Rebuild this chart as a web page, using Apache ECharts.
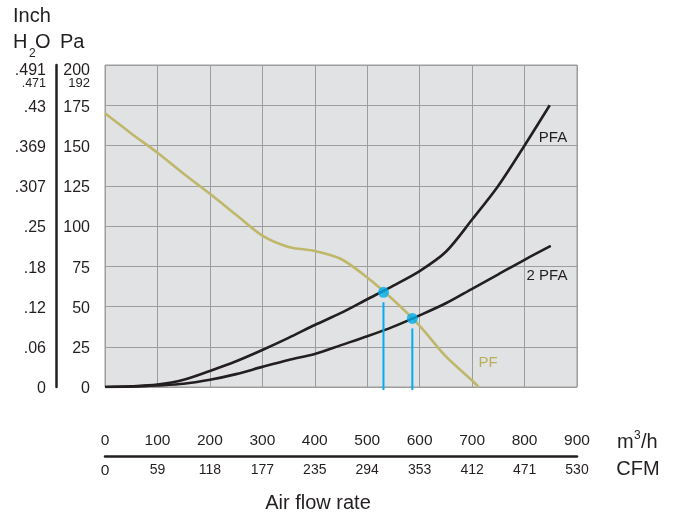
<!DOCTYPE html>
<html>
<head>
<meta charset="utf-8">
<script src="https://cdn.jsdelivr.net/npm/echarts@6/dist/echarts.min.js"></script>
<style>
html,body{margin:0;padding:0;background:#fff;}
#c{width:676px;height:516px;}
</style>
</head>
<body>
<div id="c"></div>
<script>
// ---- data ----
const flowMin = 0, flowMax = 900, flowStep = 100;
const paMin = 0, paMax = 200, paStep = 25;
const cfmLabels = ['0','59','118','177','235','294','353','412','471','530'];
const inchLabels = ['0','.06','.12','.18','.25','.307','.369','.43','.491'];
const paExtraTick = 192;
const inchExtraLabel = '.471';

const pfFlow = [0,50,100,150,200,250,300,350,400,450,500,550,600,650,700,712];
const pfPa   = [170,157.5,145.5,132.5,120,107,94,87,84.5,79.5,68,54,38,19,4,0];

const pfaFlow = [0,50,100,150,200,250,300,350,400,450,500,550,600,650,700,750,800,848];
const pfaPa   = [0,0.4,1.5,4.5,10,16,23,30.5,38.5,46,54.5,63,72,84,104,125,150,175];

const pfa2Flow = [0,50,100,150,200,250,300,350,400,450,500,550,600,650,700,750,800,850];
const pfa2Pa   = [0,0.3,1,2,4.5,8,12.5,16.8,20.5,26,31.5,37.5,44.5,52,61,70,79,87.6];

const opFlow = [531,586];
const opPa   = [58.8,42.6];

// ---- helpers ----
const pairs = (xs, ys) => xs.map((x, i) => [x, ys[i]]);
const FONT = '"Liberation Sans", Arial, Helvetica, sans-serif';
const TXT = '#231f20';
const inchMap = {};
for (let v = paMin, i = 0; v <= paMax; v += paStep, i++) inchMap[v] = inchLabels[i];

const richMain = {
  n: {fontSize: 16, color: TXT, fontFamily: FONT, padding: [4, 0, 0, 0]},
  t: {fontSize: 16, color: TXT, fontFamily: FONT, padding: [12, 0, 0, 0]}
};
const keyOf = (v) => (v === paMax ? 't' : 'n');

const chart = echarts.init(document.getElementById('c'), null, {renderer: 'canvas'});

function txt(x, y, text, size, color, align) {
  return {
    type: 'text', x: x, y: y, silent: true,
    style: {
      text: text, fill: color || TXT,
      font: size + 'px ' + FONT,
      align: align || 'left', verticalAlign: 'middle'
    }
  };
}

function baseY(extra) {
  return Object.assign({
    type: 'value', min: paMin, max: paMax, interval: paStep,
    position: 'left',
    axisLine: {show: false}, axisTick: {show: false}, splitLine: {show: false}
  }, extra);
}

const opSeries = opFlow.map((f, i) => ({
  type: 'line', xAxisIndex: 0, yAxisIndex: 0, clip: false,
  symbol: 'none', silent: true, z: 3,
  lineStyle: {color: '#00aeef', width: 2},
  data: [[f, opPa[i] - 6.2], [f, -1.9]]
}));

const option = {
  animation: false,
  backgroundColor: '#ffffff',
  textStyle: {fontFamily: FONT},
  grid: {
    left: 105, top: 65, width: 472, height: 322,
    show: true, backgroundColor: '#e1e2e4',
    borderColor: '#9d9d9d', borderWidth: 1,
    outerBoundsMode: 'none', containLabel: false
  },
  xAxis: [
    {
      type: 'value', min: flowMin, max: flowMax, interval: flowStep,
      position: 'bottom',
      axisLine: {show: false}, axisTick: {show: false},
      splitLine: {show: true, lineStyle: {color: '#9d9d9d', width: 1}},
      axisLabel: {show: true, margin: 46, fontSize: 15.5, color: TXT, fontFamily: FONT,
                  showMinLabel: true, showMaxLabel: true}
    },
    {
      type: 'value', min: flowMin, max: flowMax, interval: flowStep,
      position: 'bottom', offset: 69,
      axisLine: {show: true, onZero: false, lineStyle: {color: TXT, width: 2.5}},
      axisTick: {show: false},
      splitLine: {show: false},
      axisLabel: {
        show: true, margin: 7, fontSize: 14, color: TXT, fontFamily: FONT,
        showMinLabel: true, showMaxLabel: true,
        formatter: (v) => {
          const i = Math.round((v - flowMin) / flowStep);
          return i === 0 ? '{b|' + cfmLabels[i] + '}' : cfmLabels[i];
        },
        rich: {b: {fontSize: 15.5, color: TXT, fontFamily: FONT}}
      }
    }
  ],
  yAxis: [
    baseY({
      splitLine: {show: true, lineStyle: {color: '#9d9d9d', width: 1}},
      axisLabel: {
        show: true, margin: 15, color: TXT, fontFamily: FONT,
        showMinLabel: true, showMaxLabel: true,
        formatter: (v) => '{' + keyOf(v) + '|' + v + '}',
        rich: richMain
      }
    }),
    baseY({
      offset: 55,
      axisLabel: {
        show: true, margin: 4, color: TXT, fontFamily: FONT,
        showMinLabel: true, showMaxLabel: true,
        formatter: (v) => '{' + keyOf(v) + '|' + inchMap[v] + '}',
        rich: richMain
      }
    }),
    baseY({
      offset: 49,
      axisLine: {show: true, onZero: false, lineStyle: {color: TXT, width: 2.5}},
      axisLabel: {show: false}
    }),
    baseY({
      axisLabel: {
        show: true, margin: 15, color: TXT, fontFamily: FONT,
        customValues: [paExtraTick], showMinLabel: true, showMaxLabel: true,
        formatter: (v) => '{s|' + v + '}',
        rich: {s: {fontSize: 13, color: TXT, fontFamily: FONT, padding: [11, 0, 0, 0]}}
      }
    }),
    baseY({
      offset: 55,
      axisLabel: {
        show: true, margin: 4, color: TXT, fontFamily: FONT,
        customValues: [paExtraTick], showMinLabel: true, showMaxLabel: true,
        formatter: () => '{s|' + inchExtraLabel + '}',
        rich: {s: {fontSize: 12.5, color: TXT, fontFamily: FONT, padding: [11, 0, 0, 0]}}
      }
    })
  ],
  series: [
    {
      name: 'PF', type: 'line', smooth: 0.3, symbol: 'none', silent: true, z: 2,
      lineStyle: {color: '#bfb76a', width: 2.6},
      data: pairs(pfFlow, pfPa)
    },
    {
      name: 'PFA', type: 'line', smooth: 0.3, symbol: 'none', silent: true, z: 2,
      lineStyle: {color: TXT, width: 2.6},
      data: pairs(pfaFlow, pfaPa)
    },
    {
      name: '2 PFA', type: 'line', smooth: 0.3, symbol: 'none', silent: true, z: 2,
      lineStyle: {color: TXT, width: 2.6},
      data: pairs(pfa2Flow, pfa2Pa)
    },
    ...opSeries,
    {
      name: 'Operating point', type: 'scatter', symbol: 'circle', symbolSize: 11,
      silent: true, z: 4,
      itemStyle: {color: '#00aeef'},
      data: pairs(opFlow, opPa)
    }
  ],
  graphic: [
    txt(13, 16, 'Inch', 20),
    txt(13, 42, 'H', 20),
    txt(29, 54, '2', 12),
    txt(35, 42, 'O', 20),
    txt(60, 42, 'Pa', 20),
    txt(617, 442, 'm', 20),
    txt(634, 436, '3', 12),
    txt(641, 442, '/h', 20),
    txt(638, 469.5, 'CFM', 20, TXT, 'center'),
    txt(318, 503, 'Air flow rate', 20, TXT, 'center'),
    txt(553, 138, 'PFA', 15, TXT, 'center'),
    txt(547, 276, '2 PFA', 15, TXT, 'center'),
    txt(488, 363, 'PF', 15, '#b9b05e', 'center')
  ]
};
chart.setOption(option);
</script>
</body>
</html>
